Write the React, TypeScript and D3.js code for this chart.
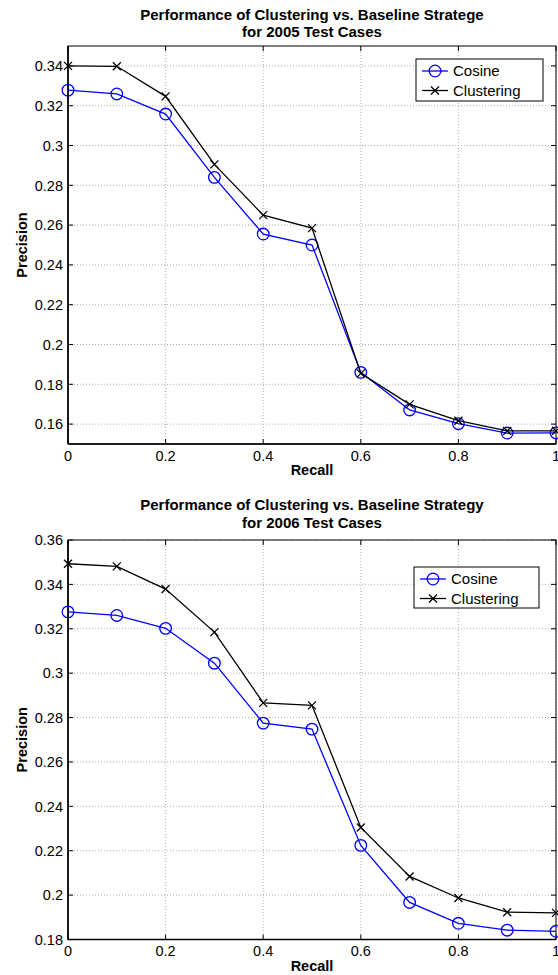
import React from "react";
import { scaleLinear, line } from "d3";

const recall = [0, 0.1, 0.2, 0.3, 0.4, 0.5, 0.6, 0.7, 0.8, 0.9, 1];

// 2005 test cases
const cosine2005 = [0.3278, 0.3259, 0.3158, 0.284, 0.2555, 0.25, 0.186, 0.1671, 0.1602, 0.1555, 0.1556];
const clustering2005 = [0.34, 0.3398, 0.3247, 0.2905, 0.265, 0.2585, 0.1855, 0.1699, 0.1617, 0.1566, 0.1566];

// 2006 test cases
const cosine2006 = [0.3276, 0.326, 0.3202, 0.3045, 0.2775, 0.2748, 0.2224, 0.1967, 0.1873, 0.1842, 0.1837];
const clustering2006 = [0.3493, 0.3481, 0.3379, 0.3185, 0.2866, 0.2855, 0.2305, 0.2084, 0.1987, 0.1923, 0.192];

const xTicks = [0, 0.2, 0.4, 0.6, 0.8, 1];
const yTicks2005 = [0.16, 0.18, 0.2, 0.22, 0.24, 0.26, 0.28, 0.3, 0.32, 0.34];
const yTicks2006 = [0.18, 0.2, 0.22, 0.24, 0.26, 0.28, 0.3, 0.32, 0.34, 0.36];

const seriesNames = ["Cosine", "Clustering"];
const font = "'Liberation Sans', Arial, Helvetica, sans-serif";

type ChartProps = {
  title: string[];
  titleY: number;
  cosine: number[];
  clustering: number[];
  yDomain: [number, number];
  yTicks: number[];
  top: number;
  bottom: number;
  legend: { x: number; y: number; w: number; h: number };
};

const fmt = (v: number) => String(+v.toFixed(2));

function Chart({ title, titleY, cosine, clustering, yDomain, yTicks, top, bottom, legend }: ChartProps) {
  const left = 68;
  const right = 556;
  const x = scaleLinear().domain([0, 1]).range([left, right]);
  const y = scaleLinear().domain(yDomain).range([bottom, top]);
  const path = line<number>()
    .x((_, i) => x(recall[i]))
    .y((d) => y(d));

  const cross = (cx: number, cy: number, s: number) =>
    `M${cx - s},${cy - s}L${cx + s},${cy + s}M${cx - s},${cy + s}L${cx + s},${cy - s}`;

  return (
    <g fontFamily={font}>
      {/* title */}
      {title.map((t, i) => (
        <text
          key={i}
          x={(left + right) / 2}
          y={titleY + i * 17.5}
          textAnchor="middle"
          fontWeight="bold"
          fontSize={15}
        >
          {t}
        </text>
      ))}
      {/* grid */}
      {xTicks.map((t, i) => (
        <line key={"gx" + i} x1={x(t)} x2={x(t)} y1={top} y2={bottom}
          stroke="#999" strokeWidth={0.8} strokeDasharray="1,2" />
      ))}
      {yTicks.map((t, i) => (
        <line key={"gy" + i} x1={left} x2={right} y1={y(t)} y2={y(t)}
          stroke="#999" strokeWidth={0.8} strokeDasharray="1,2" />
      ))}
      {/* tick marks */}
      {xTicks.map((t, i) => (
        <g key={"tx" + i} stroke="#000" strokeWidth={1}>
          <line x1={x(t)} x2={x(t)} y1={bottom} y2={bottom - 5} />
          <line x1={x(t)} x2={x(t)} y1={top} y2={top + 5} />
        </g>
      ))}
      {yTicks.map((t, i) => (
        <g key={"ty" + i} stroke="#000" strokeWidth={1}>
          <line x1={left} x2={left + 5} y1={y(t)} y2={y(t)} />
          <line x1={right} x2={right - 5} y1={y(t)} y2={y(t)} />
        </g>
      ))}
      {/* box */}
      <rect x={left} y={top} width={right - left} height={bottom - top} fill="none" stroke="#000" strokeWidth={1} />
      <line x1={left} x2={left} y1={top} y2={bottom} stroke="#000" strokeWidth={1.6} />
      <line x1={left} x2={right} y1={bottom} y2={bottom} stroke="#000" strokeWidth={1.6} />
      {/* tick labels */}
      {xTicks.map((t, i) => (
        <text key={"lx" + i} x={x(t)} y={bottom + 16.5} textAnchor="middle" fontSize={14.5}>
          {fmt(t)}
        </text>
      ))}
      {yTicks.map((t, i) => (
        <text key={"ly" + i} x={left - 5} y={y(t)} dy="0.36em" textAnchor="end" fontSize={14.5}>
          {fmt(t)}
        </text>
      ))}
      {/* axis labels */}
      <text x={(left + right) / 2} y={bottom + 31} textAnchor="middle" fontWeight="bold" fontSize={14.5}>
        Recall
      </text>
      <text
        transform={`translate(27,${(top + bottom) / 2}) rotate(-90)`}
        textAnchor="middle"
        fontWeight="bold"
        fontSize={14.5}
      >
        Precision
      </text>
      {/* series */}
      <path d={path(cosine) || ""} fill="none" stroke="#0000ff" strokeWidth={1.3} />
      {cosine.map((d, i) => (
        <circle key={"c" + i} cx={x(recall[i])} cy={y(d)} r={5.8} fill="none" stroke="#0000ff" strokeWidth={1.3} />
      ))}
      <path d={path(clustering) || ""} fill="none" stroke="#000" strokeWidth={1.3} />
      {clustering.map((d, i) => (
        <path key={"k" + i} d={cross(x(recall[i]), y(d), 4)} fill="none" stroke="#000" strokeWidth={1.3} />
      ))}
      {/* legend */}
      <g transform={`translate(${legend.x},${legend.y})`}>
        <rect width={legend.w} height={legend.h} fill="#fff" stroke="#000" strokeWidth={1} />
        {seriesNames.map((name, i) => {
          const ly = 12 + i * 19.5;
          const color = i === 0 ? "#0000ff" : "#000";
          return (
            <g key={name}>
              <line x1={6} x2={32} y1={ly} y2={ly} stroke={color} strokeWidth={1.3} />
              {i === 0 ? (
                <circle cx={19} cy={ly} r={5.8} fill="none" stroke={color} strokeWidth={1.3} />
              ) : (
                <path d={cross(19, ly, 4)} stroke={color} strokeWidth={1.3} />
              )}
              <text x={37} y={ly} dy="0.36em" fontSize={15}>
                {name}
              </text>
            </g>
          );
        })}
      </g>
    </g>
  );
}

export default function App() {
  return (
    <svg width={558} height={975} style={{ position: "absolute", left: 0, top: 0, background: "#fff" }}>
      <Chart
        title={["Performance of Clustering vs. Baseline Stratege", "for 2005 Test Cases"]}
        titleY={19.5}
        cosine={cosine2005}
        clustering={clustering2005}
        yDomain={[0.15, 0.35]}
        yTicks={yTicks2005}
        top={46}
        bottom={444}
        legend={{ x: 416, y: 59, w: 127, h: 42 }}
      />
      <Chart
        title={["Performance of Clustering vs. Baseline Strategy", "for 2006 Test Cases"]}
        titleY={510}
        cosine={cosine2006}
        clustering={clustering2006}
        yDomain={[0.18, 0.36]}
        yTicks={yTicks2006}
        top={540}
        bottom={939.5}
        legend={{ x: 414, y: 567, w: 125, h: 41 }}
      />
    </svg>
  );
}
